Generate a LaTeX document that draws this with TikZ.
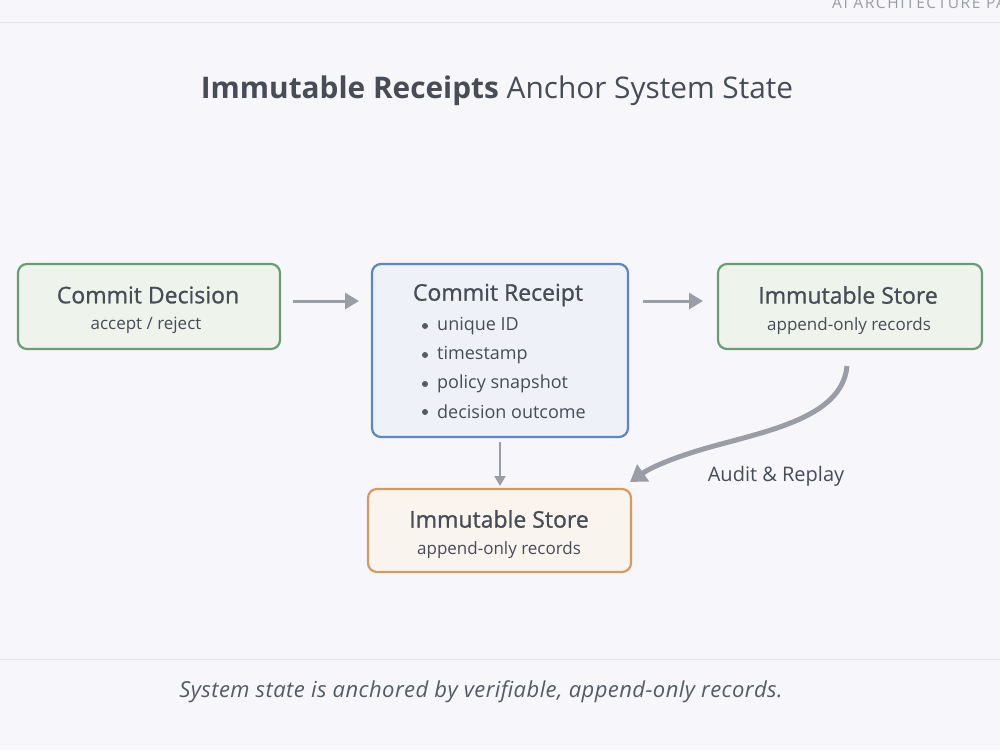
\documentclass[tikz,border=0pt]{standalone}
\usepackage{fontspec}
\setmainfont{Open Sans}
\usetikzlibrary{arrows.meta}
\definecolor{bgc}{HTML}{F7F6FA}
\definecolor{txt}{HTML}{474C57}
\definecolor{subtxt}{HTML}{555A64}
\definecolor{rulec}{HTML}{E4E3E8}
\definecolor{arr}{HTML}{9A9DA6}
\definecolor{gborder}{HTML}{6A9E72}
\definecolor{gfill}{HTML}{EEF3EC}
\definecolor{bborder}{HTML}{5B87C5}
\definecolor{bfill}{HTML}{EEF1F8}
\definecolor{oborder}{HTML}{D39A62}
\definecolor{ofill}{HTML}{FAF4EF}
\definecolor{hdr}{HTML}{9A9CA3}
\tikzset{
  box/.style={draw, line width=2.2pt, rounded corners=9pt},
  gbox/.style={box, draw=gborder, fill=gfill},
  bbox/.style={box, draw=bborder, fill=bfill},
  obox/.style={box, draw=oborder, fill=ofill},
  ttl/.style={text=txt, font=\fontsize{23}{27}\selectfont\addfontfeature{FakeBold=1}, inner sep=0pt},
  sub/.style={text=txt, font=\fontsize{17}{20}\selectfont, inner sep=0pt},
  item/.style={text=txt, font=\fontsize{18}{21}\selectfont, inner sep=0pt, anchor=west},
  dot/.style={circle, fill=subtxt, inner sep=0pt, minimum size=6pt},
  flow/.style={draw=arr, line width=3pt, -{Triangle[length=14pt,width=16pt]}},
  flowthin/.style={draw=arr, line width=2pt, -{Triangle[length=10pt,width=11pt]}},
  flowcurve/.style={draw=arr, line width=5pt, -{Triangle[length=16pt,width=20pt]}},
  rule/.style={draw=rulec, line width=1pt},
}
\begin{document}
\begin{tikzpicture}[x=1pt,y=-1pt]
\fill[bgc] (0,0) rectangle (1000,750);
\useasboundingbox (0,0) rectangle (1000,750);
\begin{scope}
\clip (0,0) rectangle (1000,750);
\node[anchor=west, text=hdr, inner sep=0pt, font=\fontsize{15.5}{18}\selectfont\addfontfeature{LetterSpace=10}] (hdr) at (832,3) {AI ARCHITECTURE PATTERNS};
\end{scope}
\coordinate (r1a) at (0,22); \coordinate (r1b) at (1000,22);
\draw[rule] (r1a) -- (r1b);
\coordinate (r2a) at (0,659); \coordinate (r2b) at (1000,659);
\draw[rule] (r2a) -- (r2b);

\node[text=txt, inner sep=0pt, font=\fontsize{29.8}{36}\selectfont] (title) at (497,91) {\textbf{Immutable Receipts} Anchor System State};

% boxes
\path[gbox] (18,264) rectangle (280,349);
\node[ttl] (b1t) at (148,295) {Commit Decision};
\node[sub] (b1s) at (146,325) {accept / reject};

\path[bbox] (372,264) rectangle (628,437);
\node[ttl] (b2t) at (498,295) {Commit Receipt};
\node[dot] (d1) at (425,326) {}; \node[item] (i1) at (437,326) {unique ID};
\node[dot] (d2) at (425,355) {}; \node[item] (i2) at (437,355) {timestamp};
\node[dot] (d3) at (425,384) {}; \node[item] (i3) at (437,384) {policy snapshot};
\node[dot] (d4) at (425,412) {}; \node[item] (i4) at (437,412) {decision outcome};

\path[gbox] (718,264) rectangle (982,349);
\node[ttl] (b3t) at (848,295) {Immutable Store};
\node[sub] (b3s2) at (849,326) {append-only records};

\path[obox] (368,489) rectangle (631,572);
\node[ttl] (b4t) at (499,519) {Immutable Store};
\node[sub] (b4s) at (499,550) {append-only records};

% arrows
\coordinate (a1s) at (293,301); \coordinate (a1e) at (359,301);
\draw[flow] (a1s) -- (a1e);
\coordinate (a2s) at (643,301); \coordinate (a2e) at (703,301);
\draw[flow] (a2s) -- (a2e);
\coordinate (a3s) at (500,442); \coordinate (a3e) at (500,486);
\draw[flowthin] (a3s) -- (a3e);
\coordinate (a4s) at (847,366); \coordinate (a4e) at (630,482);
\draw[flowcurve] (a4s) .. controls (842,420) and (760,432) .. (700,450) .. controls (670,459) and (650,468) .. (a4e);
\node[text=txt, inner sep=0pt, font=\fontsize{20}{24}\selectfont] (lbl) at (776,476) {Audit \& Replay};

\node[text=subtxt, inner sep=0pt, font=\fontsize{22}{26}\selectfont\itshape\addfontfeature{LetterSpace=2}] (foot) at (481,692) {System state is anchored by verifiable, append-only records.};
\end{tikzpicture}
\end{document}
